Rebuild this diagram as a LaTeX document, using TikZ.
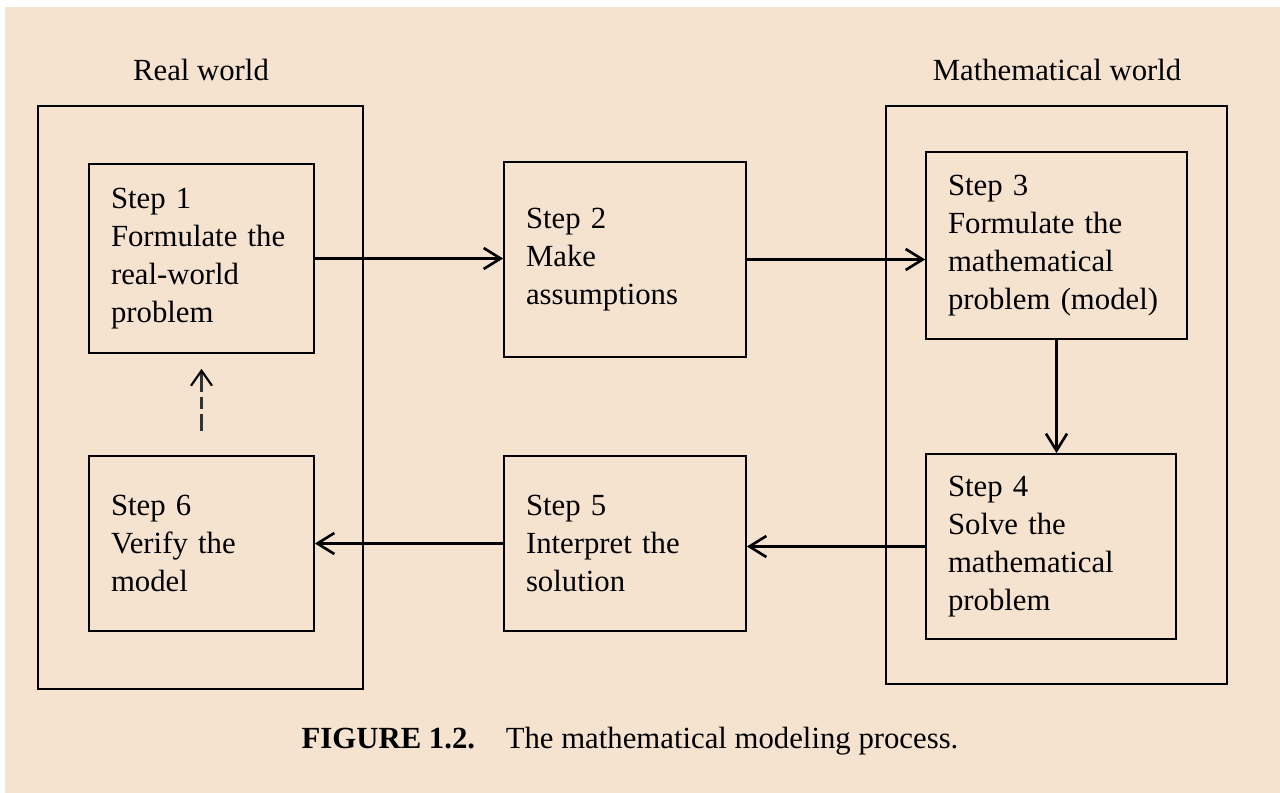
\documentclass[tikz,border=0pt]{standalone}
\usepackage{fontspec}
\setmainfont{Liberation Serif}
\usetikzlibrary{positioning,arrows.meta}
\definecolor{paper}{RGB}{245,227,208}

\begin{document}
\begin{tikzpicture}[x=0.02cm,y=-0.02cm,
  every node/.style={font=\fontsize{17.5}{21.6}\selectfont},
  stepbox/.style={draw,line width=1pt,inner xsep=0.44cm,inner ysep=0pt,align=left},
  frame/.style={draw,line width=1pt},
  arr/.style={line width=1.5pt,-{Straight Barb[length=0.34cm,width=0.42cm]}},
  dasharr/.style={line width=1.2pt,black!80,dash pattern=on 0.34cm off 0.1cm on 0.24cm off 0.1cm on 2cm,
    -{Straight Barb[length=0.3cm,width=0.42cm,black]}}]
\useasboundingbox (0,0) rectangle (1280,793);
\fill[paper] (5,7) rectangle (1280,793);

\draw[frame] (38,106) rectangle (363,689);
\draw[frame] (886,106) rectangle (1227,684);
\node (real) at (201,70) {Real world};
\node (math) at (1057,70) {Mathematical world};

\node[stepbox,text width=3.62cm,minimum height=3.78cm] (s1) at (201.5,258.5) {Step 1\\Formulate the\\real-world\\problem};
\node[stepbox,text width=3.96cm,minimum height=3.9cm] (s2) at (625,259.5) {Step 2\\Make\\assumptions};
\node[stepbox,text width=4.34cm,minimum height=3.74cm] (s3) at (1056.5,245.5) {Step 3\\Formulate the\\mathematical\\problem (model)};
\node[stepbox,text width=4.12cm,minimum height=3.7cm] (s4) at (1051,546.5) {Step 4\\Solve the\\mathematical\\problem};
\node[stepbox,text width=3.96cm,minimum height=3.5cm] (s5) at (625,543.5) {Step 5\\Interpret the\\solution};
\node[stepbox,text width=3.62cm,minimum height=3.5cm] (s6) at (201.5,543.5) {Step 6\\Verify the\\model};

\draw[arr] (s1.east) -- (s1.east -| s2.west);
\draw[arr] (s2.east) -- (s2.east -| s3.west);
\draw[arr] (s3.south) -- (s3.south |- s4.north);
\draw[arr] (s4.west) -- (s4.west -| s5.east);
\draw[arr] (s5.west) -- (s6.east);
\draw[dasharr,shorten <=0.48cm,shorten >=0.3cm] (s6.north) -- (s1.south);

\node (cap) at (630,741) {\textbf{FIGURE 1.2.}\quad The mathematical modeling process.};
\end{tikzpicture}
\end{document}
